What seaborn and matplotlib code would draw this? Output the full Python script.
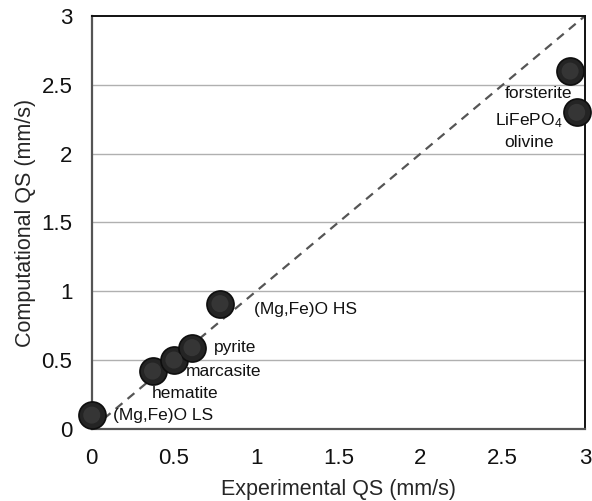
import matplotlib
matplotlib.use("Agg")
import matplotlib.pyplot as plt
import seaborn as sns
import pandas as pd

#### Data
materials = ["(Mg,Fe)O LS", "hematite", "marcasite", "pyrite",
             "(Mg,Fe)O HS", "forsterite", "LiFePO4 olivine"]
experimental_qs = [0.0, 0.37, 0.50, 0.61, 0.78, 2.91, 2.95]
computational_qs = [0.10, 0.42, 0.50, 0.59, 0.91, 2.60, 2.30]

# label text anchors (data coords)
label_text = ["(Mg,Fe)O LS", "hematite", "marcasite", "pyrite",
              "(Mg,Fe)O HS", "forsterite", "LiFePO$_4$", "olivine"]
label_x = [0.13, 0.365, 0.575, 0.745, 0.985, 2.51, 2.66, 2.66]
label_y = [0.10, 0.255, 0.415, 0.59, 0.865, 2.44, 2.24, 2.08]
label_ha = ["left", "left", "left", "left", "left", "left", "center", "center"]

# parity line
parity = [0, 3]
tick_vals = [0, 0.5, 1, 1.5, 2, 2.5, 3]
tick_text = ["0", "0.5", "1", "1.5", "2", "2.5", "3"]

df = pd.DataFrame({"material": materials,
                   "exp": experimental_qs,
                   "comp": computational_qs})

sns.set_style("white")
plt.rcParams['font.family'] = ['Liberation Sans', 'DejaVu Sans']
plt.rcParams['mathtext.default'] = 'regular'

fig = plt.figure(figsize=(5.92, 5.01), dpi=100)
ax = fig.add_axes([0.155, 0.144, 0.833, 0.824])

# horizontal grid
for v in tick_vals[1:-1]:
    ax.axhline(v, color='#b0b0b0', lw=1.0, zorder=0)

ax.plot(parity, parity, ls=(0, (4, 3)), color='#555555', lw=1.6, zorder=1)

sns.scatterplot(data=df, x="exp", y="comp", ax=ax, s=380,
                color='#242424', edgecolor='#0e0e0e', linewidth=1.2,
                zorder=3, clip_on=False, legend=False)
# soft highlight for the spherical look
sns.scatterplot(data=df, x="exp", y="comp", ax=ax, s=150,
                color='#383838', edgecolor='none', alpha=0.9,
                zorder=4, clip_on=False, legend=False)

for t, x, y, ha in zip(label_text, label_x, label_y, label_ha):
    ax.text(x, y, t, ha=ha, va='center', fontsize=12.5, color='#111111')

ax.set_xlim(0, 3)
ax.set_ylim(0, 3)
ax.set_xticks(tick_vals)
ax.set_xticklabels(tick_text)
ax.set_yticks(tick_vals)
ax.set_yticklabels(tick_text)
ax.tick_params(axis='both', direction='out', length=5, width=1,
               color='#999999', labelsize=16, pad=9, labelcolor='#111111')
ax.set_xlabel("Experimental QS (mm/s)", fontsize=15.5, labelpad=7)
ax.set_ylabel("Computational QS (mm/s)", fontsize=15.5, labelpad=4)

for side in ['left', 'bottom']:
    ax.spines[side].set_color('#555555')
    ax.spines[side].set_linewidth(1.6)
for side in ['top', 'right']:
    ax.spines[side].set_color('#111111')
    ax.spines[side].set_linewidth(1.4)

fig.savefig("out.png", dpi=100)
